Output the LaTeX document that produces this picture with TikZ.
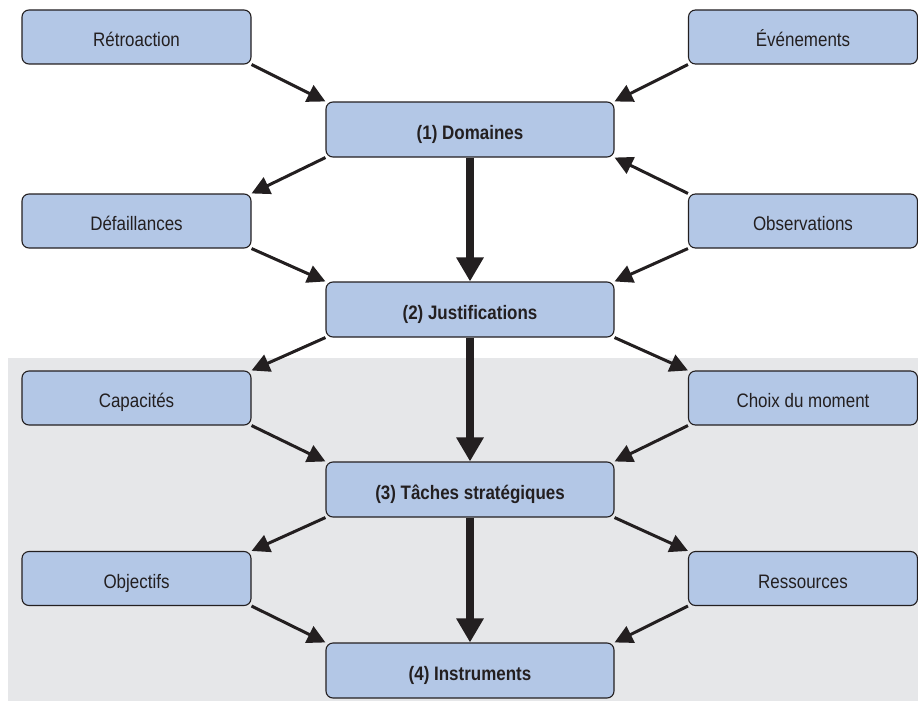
\documentclass[tikz,border=0pt]{standalone}
\usepackage{fontspec}
\setmainfont[FakeStretch=0.87]{Liberation Sans}
\usetikzlibrary{arrows.meta}

\definecolor{boxfill}{HTML}{B3C7E6}
\definecolor{panel}{HTML}{E6E7E9}
\definecolor{ink}{HTML}{231F20}

\begin{document}
\begin{tikzpicture}[x=1pt,y=-1pt,
  sidebox/.style={draw=ink, line width=1.1pt, fill=boxfill, rounded corners=7pt,
    minimum width=229pt, minimum height=54pt, inner sep=0pt,
    text height=19.5pt, text depth=0pt,
    font=\fontsize{19.5}{22}\selectfont, text=ink},
  corebox/.style={sidebox, minimum width=288pt, minimum height=55pt,
    font=\fontsize{19.5}{22}\selectfont\bfseries},
  link/.style={draw=ink, line width=3pt, -{Triangle[length=18pt,width=18pt]}},
  spine/.style={draw=ink, line width=8pt, -{Triangle[length=24pt,width=26pt]}}]

\useasboundingbox (0,0) rectangle (918,701);
% shaded lower panel
\fill[panel] (8,358) rectangle (918,701);

% main chain
\node[corebox] (dom)  at (470,129.5) {(1) Domaines};
\node[corebox] (just) at (470,309.5) {(2) Justifications};
\node[corebox] (tach) at (470,489.5) {(3) Tâches stratégiques};
\node[corebox] (inst) at (470,670.5) {(4) Instruments};

% side factors
\node[sidebox] (retro) at (136.5,37)  {Rétroaction};
\node[sidebox] (even)  at (803,37)    {Événements};
\node[sidebox] (defa)  at (136.5,221) {Défaillances};
\node[sidebox] (obs)   at (803,221)   {Observations};
\node[sidebox] (capa)  at (136.5,398) {Capacités};
\node[sidebox] (choix) at (803,398)   {Choix du moment};
\node[sidebox] (obj)   at (136.5,578.5) {Objectifs};
\node[sidebox] (ress)  at (803,578.5) {Ressources};

% thick vertical links
\draw[spine] (dom.south)  -- (just.north);
\draw[spine] (just.south) -- (tach.north);
\draw[spine] (tach.south) -- (inst.north);

% diagonal links
\draw[link] (retro.south east) -- (dom.north west);
\draw[link] (even.south west)  -- (dom.north east);
\draw[link] (dom.south west)   -- (defa.north east);
\draw[link] (obs.north west)   -- (dom.south east);
\draw[link] (defa.south east)  -- (just.north west);
\draw[link] (obs.south west)   -- (just.north east);
\draw[link] (just.south west)  -- (capa.north east);
\draw[link] (just.south east)  -- (choix.north west);
\draw[link] (capa.south east)  -- (tach.north west);
\draw[link] (choix.south west) -- (tach.north east);
\draw[link] (tach.south west)  -- (obj.north east);
\draw[link] (tach.south east)  -- (ress.north west);
\draw[link] (obj.south east)   -- (inst.north west);
\draw[link] (ress.south west)  -- (inst.north east);
\end{tikzpicture}
\end{document}
